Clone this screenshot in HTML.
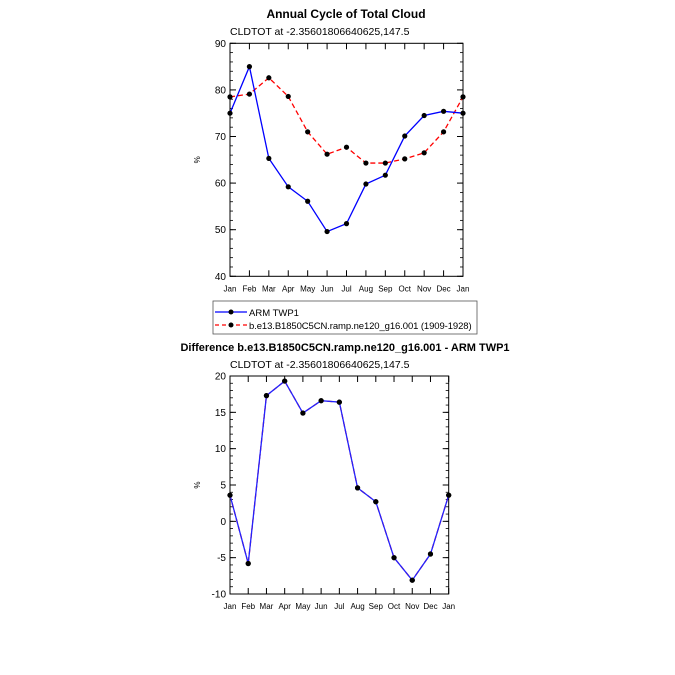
<!DOCTYPE html>
<html><head><meta charset="utf-8"><style>body{margin:0;background:#fff}svg{display:block;font-family:"Liberation Sans",sans-serif}</style></head>
<body>
<svg id="s" width="675" height="675" viewBox="0 0 675 675">
<text x="346" y="18" text-anchor="middle" font-size="12" font-weight="bold">Annual Cycle of Total Cloud</text>
<text x="230" y="35" font-size="10.5">CLDTOT at -2.35601806640625,147.5</text>
<text x="345" y="351" text-anchor="middle" font-size="11" font-weight="bold">Difference b.e13.B1850C5CN.ramp.ne120_g16.001 - ARM TWP1</text>
<text x="230" y="368" font-size="10.5">CLDTOT at -2.35601806640625,147.5</text>
<g>
<rect x="213" y="301" width="264" height="33" fill="none" stroke="#555" stroke-width="0.8"/>
<line x1="215" y1="312" x2="247" y2="312" stroke="#00f" stroke-width="1.3"/><circle cx="231" cy="312" r="2.5"/>
<text x="249" y="316" font-size="9.5">ARM TWP1</text>
<line x1="215" y1="325" x2="247" y2="325" stroke="#f00" stroke-width="1.3" stroke-dasharray="4,3"/><circle cx="231" cy="325" r="2.5"/>
<text x="249" y="329" font-size="9.5" letter-spacing="-0.1">b.e13.B1850C5CN.ramp.ne120_g16.001 (1909-1928)</text>
</g>
<g id="top"></g>
<g id="bot"></g>
</svg>
<script>
const months=["Jan","Feb","Mar","Apr","May","Jun","Jul","Aug","Sep","Oct","Nov","Dec","Jan"];
const obsValues=[75,85,65.3,59.2,56.1,49.6,51.3,59.8,61.7,70.1,74.5,75.4,75];
const modelValues=[78.5,79.1,82.6,78.6,71,66.2,67.7,64.3,64.3,65.2,66.5,71,78.5];
const diffValues=[3.6,-5.8,17.3,19.3,14.9,16.6,16.4,4.6,2.7,-5,-8.1,-4.5,3.6];
const topTicks=[40,50,60,70,80,90];
const botTicks=[-10,-5,0,5,10,15,20];
const NS="http://www.w3.org/2000/svg";
function mk(p,t,a){const e=document.createElementNS(NS,t);for(const k in a)e.setAttribute(k,a[k]);p.appendChild(e);return e;}
function plot(g,x0,x1,y0,y1,ymin,ymax,ticks,minorStep,series){
 const sx=i=>x0+(x1-x0)*i/12, sy=v=>y1-(y1-y0)*(v-ymin)/(ymax-ymin);
 const fr=mk(g,'rect',{x:x0,y:y0,width:x1-x0,height:y1-y0,fill:'none',stroke:'#000','stroke-width':1});
 
 
 for(let v=ymin;v<=ymax+1e-9;v+=minorStep){const y=sy(v);mk(g,'line',{x1:x0,y1:y,x2:x0+3,y2:y,stroke:'#000','stroke-width':0.8});mk(g,'line',{x1:x1,y1:y,x2:x1-3,y2:y,stroke:'#000','stroke-width':0.8});}
 ticks.forEach(v=>{const y=sy(v);mk(g,'line',{x1:x0,y1:y,x2:x0+6,y2:y,stroke:'#000'});mk(g,'line',{x1:x1,y1:y,x2:x1-6,y2:y,stroke:'#000'});
  const t=mk(g,'text',{x:x0-4,y:y+3.5,'text-anchor':'end','font-size':10});t.textContent=v;
  
  });
 months.forEach((m,i)=>{const x=sx(i);mk(g,'line',{x1:x,y1:y1,x2:x,y2:y1-6,stroke:'#000'});mk(g,'line',{x1:x,y1:y0,x2:x,y2:y0+6,stroke:'#000'});
  const t=mk(g,'text',{x:x,y:y1+15,'text-anchor':'middle','font-size':8});t.textContent=m;
  
  });
 const yl=mk(g,'text',{x:0,y:0,'font-size':8,transform:`translate(${x0-30},${(y0+y1)/2}) rotate(-90)`,'text-anchor':'middle'});yl.textContent='%';
 
 
 series.forEach(s=>{const pl=mk(g,'polyline',{points:s.v.map((v,i)=>sx(i)+','+sy(v)).join(' '),fill:'none',stroke:s.c,'stroke-width':1.3,'stroke-dasharray':s.d||'none'});
  
  
  s.v.forEach((v,i)=>{const c=mk(g,'circle',{cx:sx(i),cy:sy(v),r:2.6,fill:'#000'});
   
   });});
}
plot(document.getElementById('top'),230,463,43.3,276.3,40,90,topTicks,2,[{v:modelValues,c:'#f00',d:'5,3',n:'model-line'},{v:obsValues,c:'#00f',n:'obs-line'}]);
plot(document.getElementById('bot'),230,448.7,376,594,-10,20,botTicks,1,[{v:diffValues,c:'#f00',d:'5,3',n:'diff-line-red'},{v:diffValues,c:'#22f',n:'diff-line'}]);
</script>
</body></html>
